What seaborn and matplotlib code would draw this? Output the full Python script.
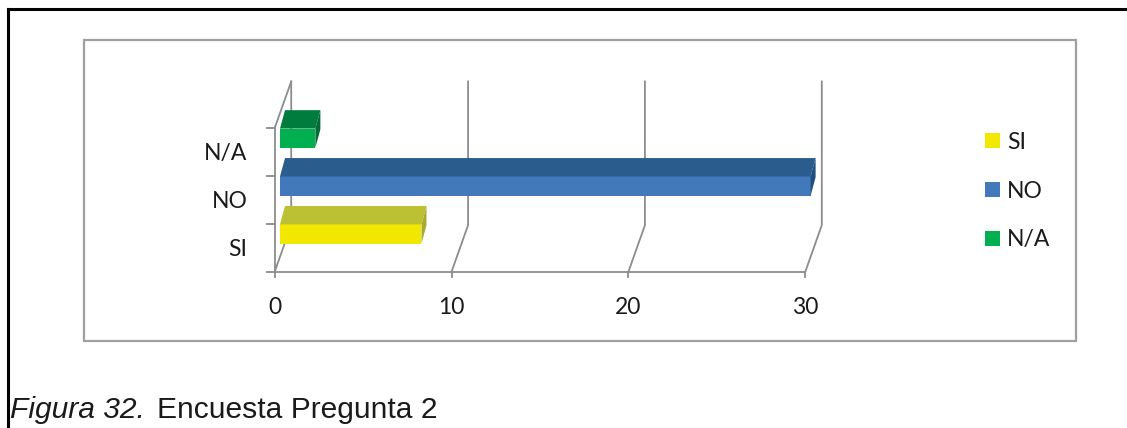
import numpy as np
import pandas as pd
import matplotlib
matplotlib.use('Agg')
import matplotlib.pyplot as plt
from matplotlib.patches import Polygon, Rectangle, Patch
from matplotlib.lines import Line2D
import matplotlib.transforms as mtransforms
import seaborn as sns

# ---------------- data ----------------
categories = ['SI', 'NO', 'N/A']
values = [8, 30, 2]
x_ticks = [0, 10, 20, 30]
legend_labels = ['SI', 'NO', 'N/A']
caption_italic = 'Figura 32.'
caption_rest = 'Encuesta Pregunta 2'

front_colors = {'SI': '#F2E700', 'NO': '#4279BB', 'N/A': '#00B050'}
top_colors = {'SI': '#BCC133', 'NO': '#2A5C8E', 'N/A': '#007D3C'}
side_colors = {'SI': '#A9AB2A', 'NO': '#1E4F7F', 'N/A': '#006B33'}

# ---------------- figure ----------------
W, H = 1127, 428
plt.rcParams['font.family'] = ['Lato', 'DejaVu Sans']
fig = plt.figure(figsize=(W / 100, H / 100), dpi=100)
fig.patch.set_facecolor('white')


def fx(px):
    return px / W


def fy(py):
    return 1 - py / H


GRID = '#8C8C8C'
TXT = '#1A1A1A'
FS = 16.5

# front plane of the 3D box
ax_left, ax_right = 274.7, 805.3
ax_top, ax_bottom = 128.0, 271.7
ax = fig.add_axes([fx(ax_left), fy(ax_bottom), (ax_right - ax_left) / W, (ax_bottom - ax_top) / H])
ax.set_facecolor('none')

df = pd.DataFrame({'cat': categories, 'value': values})
order = categories[::-1]
sns.barplot(data=df, x='value', y='cat', hue='cat', order=order, hue_order=categories,
            palette=front_colors, width=0.4, saturation=1, legend=False, ax=ax)
ax.set_xlim(x_ticks[0], x_ticks[-1])
ax.set_ylim(len(order) - 0.5, -0.5)
ax.set_xlabel('')
ax.set_ylabel('')

# 3D offsets in display pixels (x right, y up)
wall_depth = np.array([16.5, 46.5])
bar_front_shift = np.array([5.3, 13.8])
bar_depth = np.array([5.0, 18.4])

ident = mtransforms.IdentityTransform()


def D(x, y):
    return ax.transData.transform((x, y))


# back wall gridlines and floor diagonals
y_lo, y_hi = len(order) - 0.5, -0.5
for v in x_ticks:
    f_bot = D(v, y_lo)
    b_bot = f_bot + wall_depth
    b_top = D(v, y_hi) + wall_depth
    ln = Line2D([f_bot[0], b_bot[0], b_top[0]], [f_bot[1], b_bot[1], b_top[1]],
                transform=ident, color=GRID, lw=1.3, clip_on=False, zorder=0.5)
    ax.add_artist(ln)
# left wall top edge
lt = D(0, y_hi)
ax.add_artist(Line2D([lt[0], lt[0] + wall_depth[0]], [lt[1], lt[1] + wall_depth[1]],
                     transform=ident, color=GRID, lw=1.3, clip_on=False, zorder=0.5))

# bars: shift front faces back, add top and side faces
shift_tr = ax.transData + mtransforms.Affine2D().translate(*bar_front_shift)
for p in list(ax.patches):
    x0, w, y0, h = p.get_x(), p.get_width(), p.get_y(), p.get_height()
    if w == 0 or not np.isfinite(w):
        continue
    cat = order[int(round(y0 + h / 2))]
    p.set_transform(shift_tr)
    p.set_clip_on(False)
    p.set_zorder(3)
    p.set_edgecolor('none')
    ftl = D(x0, y0) + bar_front_shift
    ftr = D(x0 + w, y0) + bar_front_shift
    fbr = D(x0 + w, y0 + h) + bar_front_shift
    top = Polygon([ftl, ftr, ftr + bar_depth, ftl + bar_depth], closed=True,
                  transform=ident, facecolor=top_colors[cat], edgecolor='none',
                  clip_on=False, zorder=3)
    side = Polygon([ftr, fbr, fbr + bar_depth, ftr + bar_depth], closed=True,
                   transform=ident, facecolor=side_colors[cat], edgecolor='none',
                   clip_on=False, zorder=3)
    ax.add_artist(top)
    ax.add_artist(side)

# spines & ticks
for s in ['top', 'right']:
    ax.spines[s].set_visible(False)
for s in ['left', 'bottom']:
    ax.spines[s].set_color(GRID)
    ax.spines[s].set_linewidth(1.3)
    ax.spines[s].set_zorder(0.6)

ax.set_xticks(x_ticks)
ax.set_xticklabels([str(t) for t in x_ticks])
ax.tick_params(axis='x', which='major', direction='out', length=4.5, width=1.3,
               color=GRID, pad=13.5, labelsize=FS, labelcolor=TXT)
ax.set_yticks(range(len(order)))
ax.set_yticklabels(order)
ax.tick_params(axis='y', which='major', length=0, pad=19.5, labelsize=FS, labelcolor=TXT)
ax.set_yticks(np.arange(len(order) + 1) - 0.5, minor=True)
ax.tick_params(axis='y', which='minor', direction='out', length=6.5, width=1.3, color=GRID)
ax.grid(False)

# legend
handles = [Patch(facecolor=front_colors[c], edgecolor='none') for c in legend_labels]
leg = ax.legend(handles, legend_labels, loc='center left',
                bbox_to_anchor=(fx(985), fy(191)), bbox_transform=fig.transFigure,
                frameon=False, handlelength=0.66, handleheight=0.62, handletextpad=0.3,
                labelspacing=1.22, borderpad=0, borderaxespad=0, fontsize=FS)
for t in leg.get_texts():
    t.set_color(TXT)

# chart frame
fig.add_artist(Rectangle((fx(84), fy(341)), (1076 - 84) / W, (341 - 40) / H,
                         transform=fig.transFigure, fill=False, edgecolor='#A0A0A0', lw=1.6))
# page border lines
fig.add_artist(Line2D([fx(8), 1.0], [fy(9), fy(9)], transform=fig.transFigure, color='black', lw=2.2))
fig.add_artist(Line2D([fx(8), fx(8)], [fy(9), 0.0], transform=fig.transFigure, color='black', lw=2.2))

# caption
t1 = fig.text(fx(10), fy(418), caption_italic, fontfamily='Liberation Sans', style='italic',
              fontsize=21.6, va='baseline', ha='left', color=TXT)
fig.canvas.draw()
bb = t1.get_window_extent(renderer=fig.canvas.get_renderer())
fig.text((bb.x1 + 12) / W, fy(418), caption_rest, fontfamily='Liberation Sans',
         fontsize=21.6, va='baseline', ha='left', color=TXT)

fig.savefig('out.png', dpi=100, facecolor='white')
